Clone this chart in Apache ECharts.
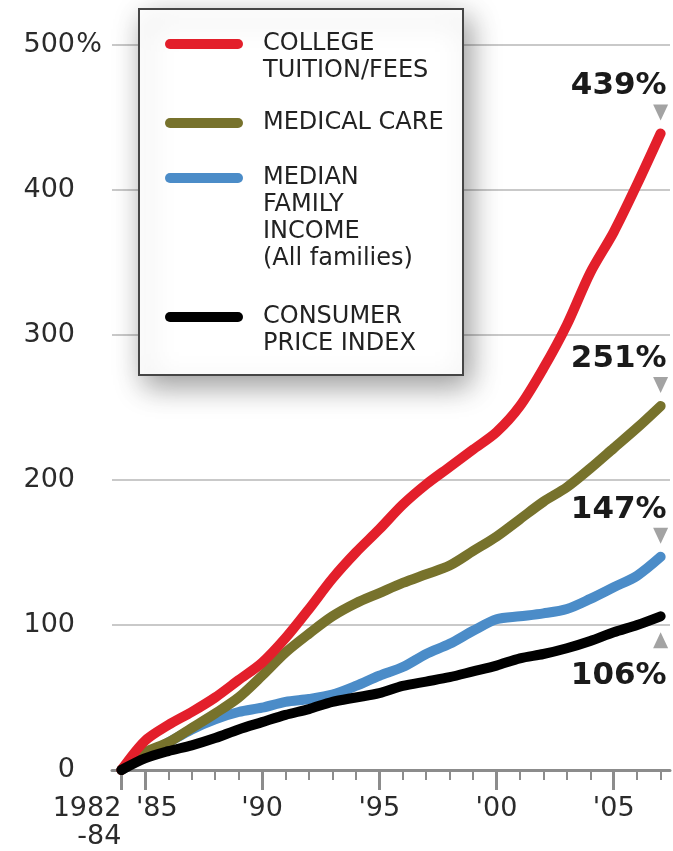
<!DOCTYPE html>
<html><head><meta charset="utf-8">
<script src="https://cdn.jsdelivr.net/npm/echarts@6/dist/echarts.min.js"></script>
<style>html,body{margin:0;padding:0;background:#fff}#c{width:673px;height:851px}</style>
</head><body><div id="c"></div>
<script>
// ---- data ----
const years = [1984,1985,1986,1987,1988,1989,1990,1991,1992,1993,1994,1995,1996,1997,1998,1999,2000,2001,2002,2003,2004,2005,2006,2007];
const tuition = [0,20,31,40,50,62,74,91,111,132,150,166,183,197,209,221,233,251,277,307,343,371,404,439];
const medical = [0,12,19,29,39,50,65,81,94,106,115,122,129,135,141,151,161,173,185,195,208,222,236,251];
const income  = [0,10,19,28,35,40,43,47,49,52,58,65,71,80,87,96,104,106,108,111,118,126,134,147];
const cpi     = [0,8,13,17,22,28,33,38,42,47,50,53,58,61,64,68,72,77,80,84,89,95,100,106];
const seriesNames = ['COLLEGE\nTUITION/FEES','MEDICAL CARE','MEDIAN\nFAMILY\nINCOME\n(All families)','CONSUMER\nPRICE INDEX'];
const seriesColors = ['#e31f2b','#77722c','#4b8cc8','#000000'];
const xLabelYears = [1985,1990,1995,2000,2005];
const majorTickYears = [1984,1985,1990,1995,2000,2005];
const baseLabel = '1982\n-84';

const FF = 'DejaVu Sans';
const TXT = '#2b2b2b';

function lineSeries(name, color, vals, down) {
  const last = vals.length - 1;
  return {
    type: 'line', name: name, color: color,
    data: years.map((y, i) => [y, vals[i]]),
    smooth: 0.3, showSymbol: false, silent: true,
    lineStyle: { width: 10, color: color, cap: 'round', join: 'round' },
    markPoint: {
      silent: true,
      symbol: down ? 'path://M0,0L16,0L8,16Z' : 'path://M8,0L16,16L0,16Z',
      symbolSize: [15, 16],
      symbolOffset: [0, down ? -21 : 24],
      itemStyle: { color: '#a3a3a3' },
      label: {
        show: true, position: [13.5, down ? -18 : 44], align: 'right', verticalAlign: 'middle',
        formatter: '{c}%', fontFamily: FF, fontWeight: 'bold', fontSize: 31, color: '#1a1a1a'
      },
      data: [{ coord: [years[last], vals[last]], value: vals[last] }]
    }
  };
}

const legendTops = [3.5, 109.5, 83.5, 276.5];
const legends = seriesNames.map((n, i) => ({
  data: [n], left: 165, top: legendTops[i], orient: 'vertical', padding: 0,
  itemWidth: 78, itemHeight: 10, itemGap: 0, selectedMode: false,
  icon: 'path://M5,0H73A5,5,0,0,1,73,10H5A5,5,0,0,1,5,0Z',
  itemStyle: { borderWidth: 0 },
  formatter: function (name) { return '\n'.repeat(name.split('\n').length - 1) + name; },
  textStyle: { fontFamily: FF, fontSize: 24, lineHeight: 27, color: '#222222', padding: [0, 0, 0, 15] }
}));

const chart = echarts.init(document.getElementById('c'), null, { renderer: 'canvas' });
chart.setOption({
  animation: false,
  backgroundColor: '#ffffff',
  grid: { left: 112, right: 3, top: 45, bottom: 81, containLabel: false, outerBoundsMode: 'none' },
  xAxis: [
    {
      type: 'value', min: 1983.6, max: 2007.4, position: 'bottom',
      axisLine: { show: true, onZero: false, lineStyle: { color: '#8c8c8c', width: 3 } },
      axisTick: { show: true, customValues: years, length: 10, lineStyle: { color: '#8c8c8c', width: 2 } },
      axisLabel: {
        customValues: xLabelYears, margin: 25, fontFamily: FF, fontSize: 27, color: TXT,
        formatter: function (v) { return v === 1985 ? "{s|'85}" : "'" + String(v).slice(2); },
        rich: { s: { padding: [0, 0, 0, 24], fontFamily: FF, fontSize: 27, color: TXT } }
      },
      splitLine: { show: false }
    },
    {
      type: 'value', min: 1983.6, max: 2007.4, position: 'bottom',
      axisLine: { show: false, onZero: false },
      axisTick: { show: true, customValues: majorTickYears, length: 20, lineStyle: { color: '#8c8c8c', width: 3 } },
      axisLabel: {
        customValues: [years[0]], margin: 25, align: 'right', lineHeight: 28,
        fontFamily: FF, fontSize: 27, color: TXT,
        formatter: function () { return baseLabel; }
      },
      splitLine: { show: false }
    }
  ],
  yAxis: {
    type: 'value', min: 0, max: 500, interval: 100,
    axisLine: { show: false }, axisTick: { show: false },
    splitLine: { lineStyle: { color: '#c9c9c9', width: 2 } },
    axisLabel: {
      margin: 10, fontFamily: FF, fontSize: 27, color: TXT,
      formatter: function (v) { return v === 500 ? '{n|500}{p|%}' : '{n|' + v + '}{p| }'; },
      rich: {
        n: { fontFamily: FF, fontSize: 27, color: TXT },
        p: { width: 27, fontFamily: FF, fontSize: 27, color: TXT }
      }
    }
  },
  legend: legends,
  graphic: [{
    type: 'rect', z: 3, silent: true,
    shape: { x: 139, y: 9, width: 324, height: 366 },
    style: { fill: '#ffffff', stroke: '#454545', lineWidth: 2, shadowBlur: 28, shadowOffsetX: 6, shadowOffsetY: 10, shadowColor: 'rgba(0,0,0,0.4)' }
  }],
  series: [
    lineSeries(seriesNames[2], seriesColors[2], income, true),
    lineSeries(seriesNames[1], seriesColors[1], medical, true),
    lineSeries(seriesNames[0], seriesColors[0], tuition, true),
    lineSeries(seriesNames[3], seriesColors[3], cpi, false)
  ]
});
</script></body></html>
